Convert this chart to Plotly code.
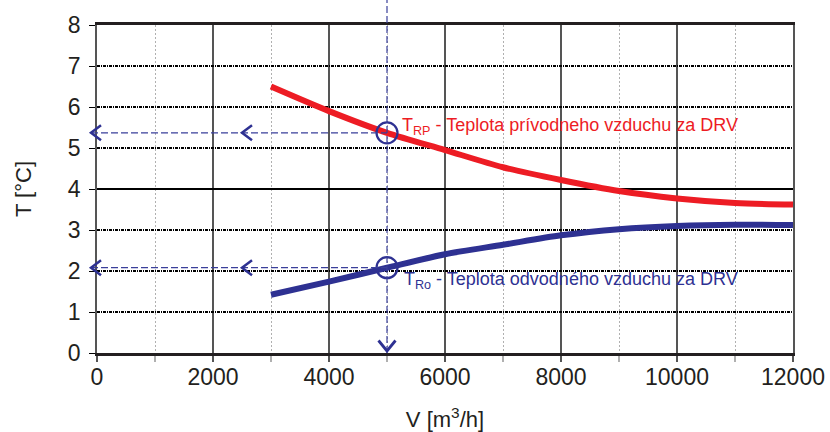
import plotly.graph_objects as go

# ---- data ----
V = [3000, 4000, 5000, 6000, 7000, 8000, 9000, 10000, 11000, 12000]
T_RP = [6.50, 5.90, 5.37, 4.95, 4.53, 4.22, 3.95, 3.77, 3.66, 3.62]
T_RO = [1.42, 1.74, 2.08, 2.41, 2.64, 2.87, 3.02, 3.10, 3.13, 3.12]
V_READ = 5000
x_ticks = [0, 2000, 4000, 6000, 8000, 10000, 12000]
x_ticktext = ["0", "2000", "4000", "6000", "8000", "10000", "12000"]
y_ticks = [0, 1, 2, 3, 4, 5, 6, 7, 8]
label_rp = "T<sub>RP</sub> - Teplota prívodneho vzduchu za DRV"
label_ro = "T<sub>Ro</sub> - Teplota odvodného vzduchu za DRV"

RED = "#ed1c24"
BLUE = "#2e3192"
DBLUE = "#3a3f9a"
FONT = "Liberation Sans, Arial, sans-serif"

i_read = V.index(V_READ)
rp_read = T_RP[i_read]
ro_read = T_RO[i_read]

XMAX = 12000
YMAX = 8
W_PLOT = 696
H_PLOT = 328
x_left_paper = -6 / W_PLOT
x_read_paper = V_READ / XMAX

fig = go.Figure()
fig.add_trace(go.Scatter(x=V, y=T_RP, mode="lines", line=dict(color=RED, width=6, shape="spline", smoothing=0.8),
                         showlegend=False, hoverinfo="skip"))
fig.add_trace(go.Scatter(x=V, y=T_RO, mode="lines", line=dict(color=BLUE, width=6, shape="spline", smoothing=0.8),
                         showlegend=False, hoverinfo="skip"))
fig.add_trace(go.Scatter(x=[V_READ, V_READ], y=[rp_read, ro_read], mode="markers",
                         marker=dict(symbol="circle-open", size=21, color=BLUE, line=dict(width=2.2, color=BLUE)),
                         showlegend=False, hoverinfo="skip", cliponaxis=False))
# invisible trace for overlay axis
fig.add_trace(go.Scatter(x=[0], y=[0], yaxis="y2", mode="markers", marker=dict(opacity=0),
                         showlegend=False, hoverinfo="skip"))

dash = "7px,3px"
LW = 1.2
CHW = 2.5
CH_D = 10 / W_PLOT       # chevron depth (paper x)
CH_H = 7.5 * YMAX / H_PLOT  # chevron half-height (data y)
# vertical readout line
fig.add_shape(type="line", xref="x", yref="paper", x0=V_READ, x1=V_READ, y0=0, y1=1.08,
              line=dict(color=DBLUE, width=LW, dash=dash), layer="above")
for yv in (rp_read, ro_read):
    fig.add_shape(type="line", xref="paper", yref="y", x0=x_left_paper, x1=x_read_paper, y0=yv, y1=yv,
                  line=dict(color=DBLUE, width=LW, dash=dash), layer="above")
    for tip in (x_left_paper, x_read_paper / 2):
        fig.add_shape(type="path", xref="paper", yref="y",
                      path=f"M {tip + CH_D} {yv + CH_H} L {tip} {yv} L {tip + CH_D} {yv - CH_H}",
                      line=dict(color=BLUE, width=CHW), layer="above")
# down chevron at bottom of vertical line
cw = 8.5 / W_PLOT
cd = 10.5 / H_PLOT
tip_y = 2 / H_PLOT
fig.add_shape(type="path", xref="paper", yref="paper",
              path=f"M {x_read_paper - cw} {tip_y + cd} L {x_read_paper} {tip_y} L {x_read_paper + cw} {tip_y + cd}",
              line=dict(color=BLUE, width=CHW + 0.3), layer="above")

fig.add_annotation(xref="x", yref="y", x=V_READ, y=rp_read, text=label_rp, showarrow=False,
                   xanchor="left", yanchor="middle", xshift=13, yshift=6,
                   font=dict(family=FONT, size=18, color=RED))
fig.add_annotation(xref="x", yref="y", x=V_READ, y=ro_read, text=label_ro, showarrow=False,
                   xanchor="left", yanchor="middle", xshift=15, yshift=-13,
                   font=dict(family=FONT, size=18, color=BLUE))

fig.update_layout(
    width=830, height=432,
    margin=dict(l=97, r=37, t=25, b=79),
    paper_bgcolor="white", plot_bgcolor="white",
    font=dict(family=FONT, size=23, color="#231f20"),
    xaxis=dict(range=[0, XMAX], tickvals=x_ticks, ticktext=x_ticktext, showgrid=True,
               gridcolor="#555555", gridwidth=1.5, automargin=False,
               zeroline=False, showline=True, mirror=True, linecolor="#231f20", linewidth=2.5,
               ticks="outside", ticklen=6, tickcolor="#555555", tickwidth=1.5,
               ticklabelstandoff=-4,
               minor=dict(dtick=1000, tick0=0, showgrid=True, gridcolor="#b0b0b0", griddash="2px,2px",
                          gridwidth=1, ticks="outside", ticklen=6, tickcolor="#b0b0b0"),
               title=dict(text="V [m<sup>3</sup>/h]", standoff=24, font=dict(size=22))),
    yaxis=dict(range=[0, YMAX], tickvals=y_ticks, showgrid=True, gridcolor="#000000", gridwidth=1.5,
               griddash="3px,1px,1px,1px", zeroline=False, showline=True, mirror=True,
               linecolor="#555555", linewidth=1.5, automargin=False,
               ticks="outside", ticklen=6, tickcolor="#000000", tickwidth=1,
               ticklabelstandoff=4,
               title=dict(text="T [°C]", standoff=30, font=dict(size=22))),
    yaxis2=dict(range=[0, YMAX], overlaying="y", dtick=4, tick0=0, showgrid=True, gridcolor="#000000",
                gridwidth=2.2, showticklabels=False, ticks="", zeroline=False, showline=False),
)

fig.write_html("out.html")
